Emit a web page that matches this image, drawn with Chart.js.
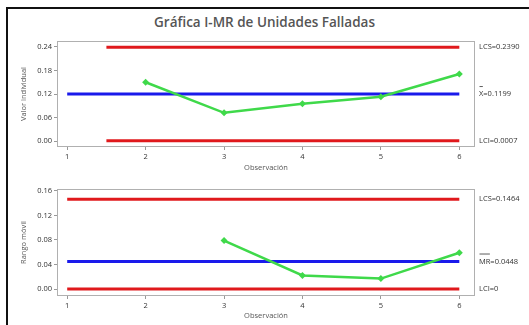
<!DOCTYPE html>
<html lang="es">
<head>
    <meta charset="UTF-8">
    <title>Gráfica I-MR de Unidades Falladas</title>
    <style>
        body {
            margin: 0;
            padding: 0;
            background-color: white;
            font-family: "Open Sans", Arial, sans-serif;
        }
        .page {
            position: relative;
            width: 529px;
            height: 325px;
            overflow: hidden;
            background-color: white;
        }
        .frame {
            position: absolute;
            left: 6px;
            top: 7px;
            width: 600px;
            height: 400px;
            border-left: 2px solid #111;
            border-top: 2px solid #111;
        }
        h1 {
            position: absolute;
            top: 13px;
            left: 0;
            width: 529px;
            margin: 0;
            text-align: center;
            font-size: 13.5px;
            font-weight: 600;
            color: #555;
        }
        canvas {
            position: absolute;
            left: 0;
        }
        #chart-i { top: 30px; }
        #chart-mr { top: 178px; }
    </style>
    <script src="https://cdn.jsdelivr.net/npm/chart.js"></script>
</head>
<body>
    <div class="page">
        <div class="frame"></div>
        <h1>Gráfica I-MR de Unidades Falladas</h1>
        <canvas id="chart-i" width="529" height="148"></canvas>
        <canvas id="chart-mr" width="529" height="147"></canvas>
    </div>

    <script>
        // data
        const observaciones = [1, 2, 3, 4, 5, 6];
        const valorIndividual = [null, 0.150, 0.072, 0.095, 0.113, 0.171];
        const rangoMovil = [null, null, 0.079, 0.022, 0.017, 0.059];

        const iTicks = [0, 0.06, 0.12, 0.18, 0.24];
        const mrTicks = [0, 0.04, 0.08, 0.12, 0.16];

        // control limits: [LCS, centre, LCI]
        const iLimits = [0.2390, 0.1199, 0.0007];
        const iLimitLabels = ['LCS=0.2390', 'X=0.1199', 'LCI=0.0007'];
        const iLimitSpan = [1.5, 6];   // red lines start half way
        const iCentreSpan = [1, 6];

        const mrLimits = [0.1464, 0.0448, 0];
        const mrLimitLabels = ['LCS=0.1464', 'MR=0.0448', 'LCI=0'];
        const mrSpan = [1, 6];

        const RED = '#e0191c';
        const BLUE = '#1a1aeb';
        const GREEN = '#3fd94a';
        const smallFont = { family: '"Open Sans", Arial, sans-serif', size: 7.5 };

        function hLine(span, value, color) {
            return {
                data: span.map(x => ({ x: x, y: value })),
                borderColor: color,
                borderWidth: 3,
                pointRadius: 0,
                fill: false
            };
        }

        // box around the plot + labels on the right of the limit lines
        const limitPlugin = {
            id: 'limits',
            afterDraw(chart, args, opts) {
                const { ctx, chartArea } = chart;
                const y = chart.scales.y;
                ctx.save();
                ctx.strokeStyle = '#b0b0b0';
                ctx.lineWidth = 1;
                ctx.strokeRect(chartArea.left + 0.5, chartArea.top + 0.5,
                    chartArea.right - chartArea.left - 1, chartArea.bottom - chartArea.top - 1);

                ctx.font = '7.5px "Open Sans", Arial, sans-serif';
                ctx.fillStyle = '#333';
                ctx.textBaseline = 'middle';
                const x = chartArea.right + 4;
                opts.values.forEach((v, i) => {
                    const py = y.getPixelForValue(v);
                    const txt = opts.labels[i];
                    ctx.fillText(txt, x, py);
                    if (i === 1) {
                        // bar over X / MR
                        const w = ctx.measureText(txt.split('=')[0]).width;
                        ctx.strokeStyle = '#333';
                        ctx.lineWidth = 0.8;
                        ctx.beginPath();
                        ctx.moveTo(x + 0.5, py - 7.5);
                        ctx.lineTo(x + w - 0.5, py - 7.5);
                        ctx.stroke();
                    }
                });
                ctx.restore();
            }
        };

        function makeChart(id, values, limits, labels, redSpan, blueSpan, yTicks, yMin, yMax, yTitle, xHeight, xTitlePad) {
            const points = observaciones.map((x, i) => ({ x: x, y: values[i] }));
            return new Chart(document.getElementById(id), {
                type: 'line',
                data: {
                    datasets: [
                        {
                            data: points,
                            borderColor: GREEN,
                            backgroundColor: GREEN,
                            borderWidth: 2.5,
                            pointStyle: 'rectRot',
                            pointRadius: 3.5,
                            pointBorderWidth: 0,
                            fill: false
                        },
                        hLine(blueSpan, limits[1], BLUE),
                        hLine(redSpan, limits[0], RED),
                        hLine(redSpan, limits[2], RED)
                    ]
                },
                options: {
                    responsive: false,
                    animation: false,
                    layout: { padding: { left: 19, right: 54, top: 11, bottom: 0 } },
                    plugins: {
                        legend: { display: false },
                        tooltip: { enabled: false },
                        limits: { values: limits, labels: labels }
                    },
                    scales: {
                        x: {
                            type: 'linear',
                            min: 0.87,
                            max: 6.2,
                            afterBuildTicks: s => { s.ticks = observaciones.map(v => ({ value: v })); },
                            afterFit: s => { s.height = xHeight; },
                            ticks: { font: smallFont, color: '#333', padding: 2, maxRotation: 0 },
                            grid: { drawOnChartArea: false, tickLength: 3, color: '#999' },
                            border: { display: false },
                            title: {
                                display: true,
                                text: 'Observación',
                                font: { family: smallFont.family, size: 7.5 },
                                color: '#555',
                                padding: { top: 0, bottom: xTitlePad }
                            }
                        },
                        y: {
                            min: yMin,
                            max: yMax,
                            afterBuildTicks: s => { s.ticks = yTicks.map(v => ({ value: v })); },
                            afterFit: s => { s.width = 38; },
                            ticks: { font: smallFont, color: '#333', padding: 2, callback: v => v.toFixed(2) },
                            grid: { drawOnChartArea: false, tickLength: 3, color: '#999' },
                            border: { display: false },
                            title: {
                                display: true,
                                text: yTitle,
                                font: { family: smallFont.family, size: 7.5 },
                                color: '#555',
                                padding: { top: 0, bottom: 0 }
                            }
                        }
                    }
                },
                plugins: [limitPlugin]
            });
        }

        makeChart('chart-i', valorIndividual, iLimits, iLimitLabels, iLimitSpan, iCentreSpan,
            iTicks, -0.015, 0.255, 'Valor individual', 31, 5.5);
        makeChart('chart-mr', rangoMovil, mrLimits, mrLimitLabels, mrSpan, mrSpan,
            mrTicks, -0.0114, 0.163, 'Rango móvil', 29, 4.5);
    </script>
</body>
</html>
